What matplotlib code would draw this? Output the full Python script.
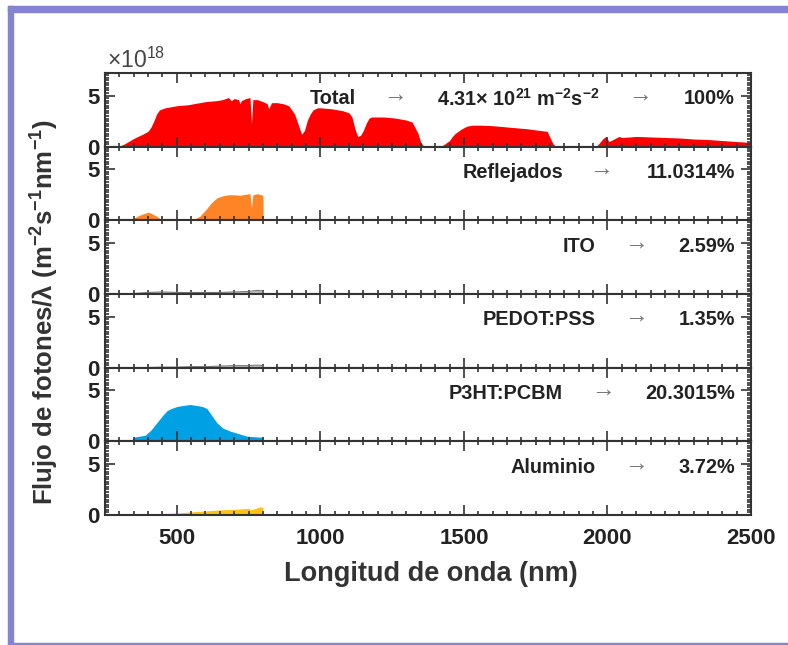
import matplotlib
matplotlib.use('Agg')
import matplotlib.pyplot as plt
from matplotlib.patches import Rectangle
from matplotlib.ticker import MultipleLocator

plt.rcParams['font.family'] = ['Liberation Sans', 'DejaVu Sans']
plt.rcParams['mathtext.default'] = 'regular'

# Espectro total (x10^18)
wl_total = [290, 300, 320, 350, 380, 400, 410, 420, 430, 440, 460, 480, 500, 520, 540, 560,
            580, 600, 620, 640, 660, 680, 690, 700, 715, 720, 725, 740, 755, 760, 765, 780,
            800, 815, 820, 830, 850, 870, 890, 900, 910, 925, 935, 945, 955, 965, 975, 990,
            1000, 1020, 1040, 1060, 1080, 1100, 1110, 1120, 1130, 1140, 1150, 1160, 1170,
            1180, 1200, 1220, 1240, 1260, 1280, 1300, 1320, 1340, 1350, 1360, 1380, 1410,
            1420, 1430, 1450, 1460, 1470, 1490, 1510, 1530, 1560, 1600, 1640, 1680, 1720,
            1760, 1790, 1800, 1810, 1820, 1960, 1970, 1985, 1995, 2005, 2020, 2040, 2050,
            2080, 2100, 2150, 2200, 2250, 2300, 2350, 2400, 2450, 2480, 2500]
flux_total = [0, 0.05, 0.3, 0.8, 1.2, 1.5, 1.9, 2.5, 3.2, 3.6, 3.8, 3.9, 4.0, 4.05, 4.1, 4.2,
              4.3, 4.4, 4.45, 4.5, 4.6, 4.8, 4.5, 4.7, 4.6, 4.2, 4.5, 4.7, 4.8, 2.2, 4.6, 4.6,
              4.4, 4.2, 3.7, 4.3, 4.3, 4.2, 4.0, 3.6, 3.2, 2.0, 1.2, 1.6, 2.6, 3.2, 3.6, 3.8,
              3.8, 3.75, 3.7, 3.6, 3.5, 3.3, 2.9, 1.8, 1.0, 1.1, 1.6, 2.3, 2.8,
              2.9, 2.9, 2.9, 2.85, 2.8, 2.7, 2.6, 2.4, 1.3, 0.4, 0.05, 0, 0,
              0.05, 0.2, 0.6, 1.0, 1.3, 1.7, 2.0, 2.1, 2.1, 2.05, 1.95, 1.85, 1.75,
              1.6, 1.5, 0.9, 0.3, 0, 0, 0.3, 0.8, 1.0, 0.5, 0.7, 1.0, 0.9,
              0.95, 1.0, 0.95, 0.9, 0.85, 0.75, 0.7, 0.6, 0.5, 0.45, 0.35]

# Reflejados
wl_refl = [340, 350, 370, 390, 400, 410, 430, 445, 455, 550, 560, 580, 600, 620, 640, 660,
           680, 700, 720, 740, 755, 760, 765, 780, 795, 800, 801]
flux_refl = [0, 0.2, 0.5, 0.7, 0.8, 0.7, 0.4, 0.1, 0, 0, 0.1, 0.4, 1.0, 1.7, 2.2, 2.4,
             2.5, 2.5, 2.45, 2.55, 2.6, 1.2, 2.5, 2.6, 2.5, 2.4, 0]

# ITO
wl_ito = [350, 400, 450, 500, 550, 600, 650, 700, 750, 780, 800, 801]
flux_ito = [0.05, 0.15, 0.2, 0.15, 0.15, 0.15, 0.15, 0.2, 0.25, 0.35, 0.3, 0]

# PEDOT:PSS
wl_pedot = [350, 400, 450, 500, 550, 600, 650, 700, 750, 780, 800, 801]
flux_pedot = [0.0, 0.02, 0.05, 0.05, 0.1, 0.1, 0.15, 0.2, 0.2, 0.25, 0.2, 0]

# P3HT:PCBM
wl_p3ht = [340, 350, 370, 390, 410, 430, 450, 466, 480, 500, 520, 546, 570, 590, 605, 620,
           640, 660, 686, 710, 745, 770, 800, 801]
flux_p3ht = [0, 0.4, 0.5, 0.6, 1.1, 1.8, 2.5, 3.0, 3.2, 3.4, 3.5, 3.6, 3.5, 3.4, 3.2, 2.6,
             1.8, 1.3, 1.0, 0.8, 0.5, 0.45, 0.4, 0]

# Aluminio
wl_al = [340, 350, 400, 450, 500, 550, 600, 650, 700, 750, 760, 790, 800, 801]
flux_al = [0, 0.05, 0.1, 0.15, 0.2, 0.3, 0.4, 0.5, 0.55, 0.65, 0.5, 0.8, 0.75, 0]

names = ['Total', 'Reflejados', 'ITO', 'PEDOT:PSS', 'P3HT:PCBM', 'Aluminio']
percents = ['100%', '11.0314%', '2.59%', '1.35%', '20.3015%', '3.72%']
colors = ['#ff0000', '#ff8426', '#7a7a7a', '#7a7a7a', '#00a1e4', '#ffc20e']
series = [(wl_total, flux_total), (wl_refl, flux_refl), (wl_ito, flux_ito),
          (wl_pedot, flux_pedot), (wl_p3ht, flux_p3ht), (wl_al, flux_al)]

W, H = 788, 645
fig = plt.figure(figsize=(W / 100, H / 100), dpi=100)

# marco de la pagina
frame = '#8383d1'
fig.patches.append(Rectangle((8 / W, 0), 5 / W, 1 - 6 / H, transform=fig.transFigure, color=frame))
fig.patches.append(Rectangle((8 / W, 1 - 12 / H), 1, 6 / H, transform=fig.transFigure, color=frame))
fig.patches.append(Rectangle((8 / W, 0), 1, 2 / H, transform=fig.transFigure, color=frame))

left, right = 105, 751
top, bottom = 73, 515
ph = (bottom - top) / 6
dark = '#333333'
txt = '#222222'

# posiciones (px) de los textos: fin del nombre, centro de la flecha
name_x = [356, 563, 596, 596, 563, 596]
arrow_x = [395, 601, 636, 636, 603, 636]

for i in range(6):
    y0 = 1 - (top + (i + 1) * ph) / H
    ax = fig.add_axes([left / W, y0, (right - left) / W, ph / H])
    wl, fl = series[i]
    if i in (2, 3):
        ax.fill_between(wl, 0, fl, color='#bbbbbb', lw=0)
        ax.plot(wl, fl, color=colors[i], lw=0.8)
    else:
        ax.fill_between(wl, 0, fl, color=colors[i], lw=0)
    ax.set_xlim(250, 2500)
    ax.set_ylim(0, 7.2)
    ax.xaxis.set_major_locator(MultipleLocator(500))
    ax.xaxis.set_minor_locator(MultipleLocator(50))
    ax.set_yticks([0, 5])
    ax.yaxis.set_minor_locator(MultipleLocator(0.25))
    ax.tick_params(which='both', direction='in', top=True, right=True, colors=dark,
                   labelsize=16, width=1.2)
    ax.tick_params(which='major', length=7)
    ax.tick_params(which='minor', length=3)
    for lab in ax.get_yticklabels() + ax.get_xticklabels():
        lab.set_fontweight('bold')
        lab.set_color(txt)
    ax.tick_params(axis='y', pad=4)
    for s in ax.spines.values():
        s.set_color(dark)
        s.set_linewidth(1.5)
    if i < 5:
        ax.tick_params(axis='x', labelbottom=False)
    else:
        ax.tick_params(axis='x', pad=9)

    ty = 0.65
    ax.text((name_x[i] - left) / (right - left), ty, names[i], transform=ax.transAxes,
            ha='right', va='center', fontsize=14.3, fontweight='bold', color=txt)
    ax.text((arrow_x[i] - left) / (right - left), ty + 0.05, '→', transform=ax.transAxes,
            ha='center', va='center', fontsize=17, color='#777777')
    ax.text((735 - left) / (right - left), ty, percents[i], transform=ax.transAxes,
            ha='right', va='center', fontsize=14.3, fontweight='bold', color=txt)
    if i == 0:
        ax.text((437 - left) / (right - left), ty,
                r'4.31$\times$ 10$^{21}$ m$^{-2}$s$^{-2}$', transform=ax.transAxes,
                ha='left', va='center', fontsize=14.3, fontweight='bold', color=txt)
        ax.text((640 - left) / (right - left), ty + 0.05, '→', transform=ax.transAxes,
                ha='center', va='center', fontsize=17, color='#777777')

fig.text(107 / W, 1 - 60 / H, r'$\times$10$^{18}$', ha='left', va='center',
         fontsize=16.5, color='#444444')
fig.text(45 / W, 1 - 312 / H, r'Flujo de fotones/λ (m$^{-2}$s$^{-1}$nm$^{-1}$)',
         rotation=90, ha='center', va='center', fontsize=18.5, fontweight='bold',
         color='#333333')
fig.text(431 / W, 1 - 574 / H, 'Longitud de onda (nm)',
         ha='center', va='center', fontsize=19.5, fontweight='bold', color='#333333')

fig.savefig('out.png', dpi=100)
